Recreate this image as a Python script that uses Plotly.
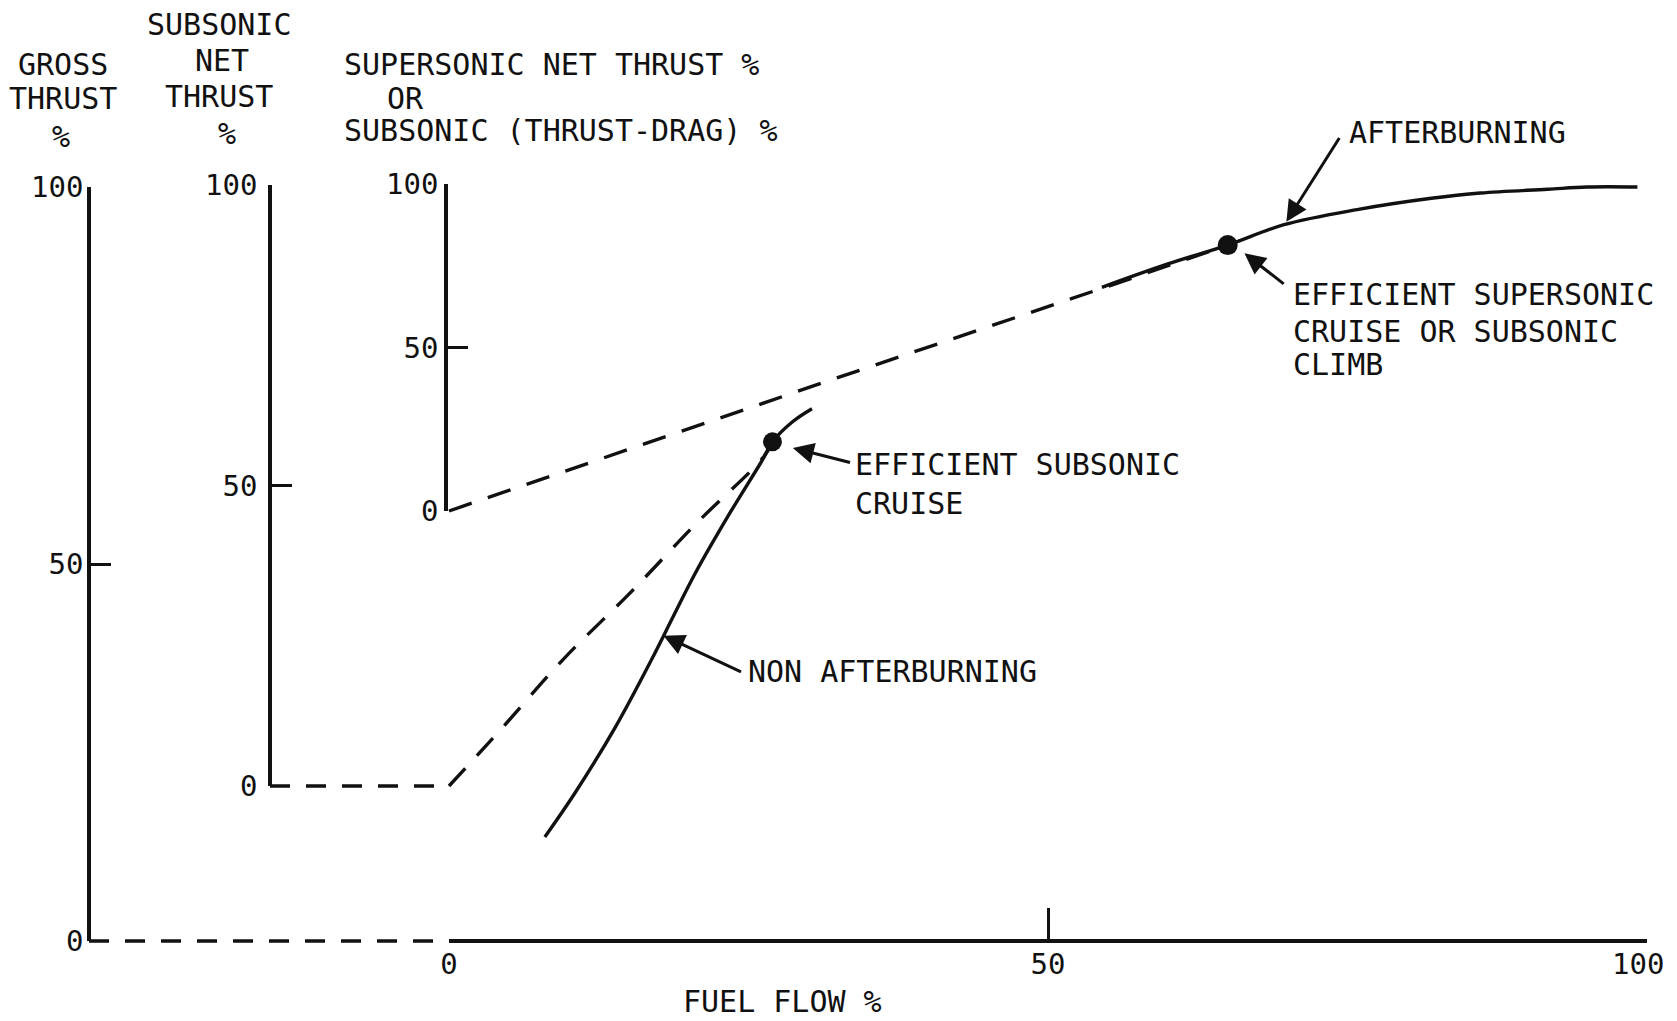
import plotly.graph_objects as go

W, H = 1677, 1021          # target picture
OFF = 8                    # page body margin
WF, HF = W - OFF, H - OFF  # figure size

# ---------------- data ----------------
FUEL_TICKS = [0, 50, 100]
FUEL_TICK_TEXT = ["0", "50", "100\u00a0"]
FUEL_MARK_TICKS = [50, 100]
THRUST_TICKS = [0, 50, 100]

# gross thrust, non afterburning
NONAB_FUEL = [8.0, 10.5, 13.9, 16.9, 18.8, 20.6, 23.5, 26.2, 27.0, 28.7, 30.3]
NONAB_GROSS = [13.8, 19.6, 28.4, 37.3, 43.3, 48.9, 56.9, 63.9, 66.2, 68.9, 70.6]

# gross thrust, afterburning
AB_FUEL = [54.5, 60.0, 65.0, 69.7, 75.8, 82.0, 86.1, 91.7, 95.0, 99.2]
AB_GROSS = [86.7, 89.8, 92.3, 95.0, 97.0, 98.5, 99.2, 99.7, 100.0, 100.0]

# subsonic net thrust
SUBNET_FUEL = [0, 4.5, 9.5, 15.1, 20.7, 26.2, 27.0]
SUBNET_THRUST = [0, 9.8, 21.0, 32.1, 43.8, 54.6, 57.2]

# supersonic net thrust or subsonic (thrust-drag)
SUPNET_FUEL = [0, 31.1, 55.8, 65.0]
SUPNET_THRUST = [0, 39.1, 69.7, 81.3]

# operating points
SUB_CRUISE_FUEL, SUB_CRUISE_GROSS = [27.0], [66.2]
SUP_CRUISE_FUEL, SUP_CRUISE_GROSS = [65.0], [92.3]

# ---------------- layout geometry (target pixels) ----------------
X0_PX, X100_PX, XAXIS_PY = 449, 1647, 941
GROSS_PX, GROSS_Y0, GROSS_Y100 = 89, 941, 187
SUB_PX, SUB_Y0, SUB_Y100 = 270, 786, 185
SUP_PX, SUP_Y0, SUP_Y100 = 446, 511, 184


def fx(px):
    return (px - OFF) / WF


def fy(py):
    return 1 - (py - OFF) / HF


k = 100.0 / (X100_PX - X0_PX)
FUEL_RANGE = [(OFF - X0_PX) * k, (OFF + WF - X0_PX) * k]


def fuel_at(px):
    return (px - X0_PX) * k


def thrust_range(y0, y100):
    u = 100.0 / (y0 - y100)
    return [-(OFF + HF - y0) * u, (y0 - OFF) * u]


GROSS_BASE_FUEL = [fuel_at(GROSS_PX), 0]
GROSS_BASE_VAL = [0, 0]
SUB_BASE_FUEL = [fuel_at(SUB_PX), 0]
SUB_BASE_VAL = [0, 0]

FONT = "DejaVu Sans Mono"
BLACK = "#111111"
TICK_SIZE = 29
TXT = 30
CLEAR = "rgba(0,0,0,0)"

fig = go.Figure()

dash_base = "20px,16px"
dash_curve = "24px,17px"


def line_trace(x, y, ya, dash=None, width=3.4, spline=False):
    ln = dict(color=BLACK, width=width)
    if dash:
        ln["dash"] = dash
    if spline:
        ln["shape"] = "spline"
        ln["smoothing"] = 1.0
    return go.Scatter(x=x, y=y, xaxis="x", yaxis=ya, mode="lines", line=ln,
                      showlegend=False, hoverinfo="skip")


fig.add_trace(line_trace(GROSS_BASE_FUEL, GROSS_BASE_VAL, "y", dash_base))
fig.add_trace(line_trace(SUB_BASE_FUEL, SUB_BASE_VAL, "y2", dash_base))
fig.add_trace(line_trace(SUBNET_FUEL, SUBNET_THRUST, "y2", dash_curve, spline=True))
fig.add_trace(line_trace(SUPNET_FUEL, SUPNET_THRUST, "y3", dash_curve))
fig.add_trace(line_trace(NONAB_FUEL, NONAB_GROSS, "y", spline=True))
fig.add_trace(line_trace(AB_FUEL, AB_GROSS, "y", spline=True))

fig.add_trace(go.Scatter(x=SUB_CRUISE_FUEL, y=SUB_CRUISE_GROSS, xaxis="x", yaxis="y",
                         mode="markers", marker=dict(color=BLACK, size=19),
                         showlegend=False, hoverinfo="skip"))
fig.add_trace(go.Scatter(x=SUP_CRUISE_FUEL, y=SUP_CRUISE_GROSS, xaxis="x", yaxis="y",
                         mode="markers", marker=dict(color=BLACK, size=20),
                         showlegend=False, hoverinfo="skip"))

for xa, ya in [("x2", "y"), ("x", "y4"), ("x", "y5"), ("x", "y6")]:
    fig.add_trace(go.Scatter(x=[None], y=[None], xaxis=xa, yaxis=ya,
                             mode="lines", showlegend=False, hoverinfo="skip"))

tickfont = dict(family=FONT, size=TICK_SIZE, color=BLACK)
hidden = dict(visible=False, showgrid=False, zeroline=False)

layout = dict(
    width=WF, height=HF,
    margin=dict(l=0, r=0, t=0, b=0, pad=0, autoexpand=False),
    paper_bgcolor="white", plot_bgcolor=CLEAR,
    showlegend=False,
    xaxis=dict(domain=[0, 1], range=FUEL_RANGE, anchor="free", position=fy(XAXIS_PY),
               showline=False, showgrid=False, zeroline=False, ticks="",
               tickmode="array", tickvals=FUEL_TICKS, ticktext=FUEL_TICK_TEXT,
               tickfont=tickfont, ticklabelstandoff=3, ticklabeloverflow="allow",
               automargin=False),
    xaxis2=dict(domain=[fx(X0_PX), fx(X100_PX)], range=[0, 100], anchor="free",
                position=fy(XAXIS_PY), showline=True, linecolor=BLACK, linewidth=3.5,
                showgrid=False, zeroline=False, ticks="inside", ticklen=31, tickwidth=3,
                tickcolor=BLACK, tickmode="array", tickvals=FUEL_MARK_TICKS,
                showticklabels=False, automargin=False),
    yaxis=dict(domain=[0, 1], range=thrust_range(GROSS_Y0, GROSS_Y100), **hidden),
    yaxis2=dict(overlaying="y", range=thrust_range(SUB_Y0, SUB_Y100), **hidden),
    yaxis3=dict(overlaying="y", range=thrust_range(SUP_Y0, SUP_Y100), **hidden),
)

for name, px, y0, y100, stand in [("yaxis4", GROSS_PX, GROSS_Y0, GROSS_Y100, -2),
                                  ("yaxis5", SUB_PX, SUB_Y0, SUB_Y100, 5),
                                  ("yaxis6", SUP_PX, SUP_Y0, SUP_Y100, 0)]:
    layout[name] = dict(domain=[fy(y0), fy(y100)], range=[0, 100], anchor="free",
                        position=fx(px), side="left", showline=True, linecolor=BLACK,
                        linewidth=3.5, showgrid=False, zeroline=False, ticks="inside",
                        ticklen=20, tickwidth=3, tickcolor=BLACK, tickmode="array",
                        tickvals=THRUST_TICKS, ticktext=[str(v) for v in THRUST_TICKS],
                        tickfont=tickfont, ticklabelstandoff=stand, automargin=False)

fig.update_layout(**layout)

TEXTS = [
    ("GROSS", 63, 64, "center"),
    ("THRUST", 63, 99, "center"),
    ("%", 61, 136, "center"),
    ("SUBSONIC", 219, 24, "center"),
    ("NET", 222, 61, "center"),
    ("THRUST", 219, 96, "center"),
    ("%", 227, 134, "center"),
    ("SUPERSONIC NET THRUST %", 343, 64, "left"),
    ("OR", 386, 98, "left"),
    ("SUBSONIC (THRUST-DRAG) %", 343, 130, "left"),
    ("AFTERBURNING", 1348, 133, "left"),
    ("EFFICIENT SUPERSONIC", 1292, 294, "left"),
    ("CRUISE OR SUBSONIC", 1292, 331, "left"),
    ("CLIMB", 1292, 364, "left"),
    ("EFFICIENT SUBSONIC", 854, 465, "left"),
    ("CRUISE", 854, 503, "left"),
    ("NON AFTERBURNING", 747, 671, "left"),
    ("FUEL FLOW %", 682, 1001, "left"),
]
for t, px, py, xa in TEXTS:
    fig.add_annotation(text=t, xref="paper", yref="paper", x=fx(px), y=fy(py),
                       xanchor=xa, yanchor="middle", showarrow=False, borderpad=0,
                       font=dict(family=FONT, size=TXT, color=BLACK))

# arrows: head fuel, head gross, tail fuel, tail gross
ARROWS = [
    (28.7, 65.4, 33.6, 63.4),
    (17.9, 40.5, 24.5, 35.6),
    (69.9, 95.4, 74.4, 106.7),
    (66.4, 91.2, 69.8, 87.0),
]
for hx, hy, tx, ty in ARROWS:
    fig.add_annotation(x=hx, y=hy, ax=tx, ay=ty, xref="x", yref="y", axref="x", ayref="y",
                       text="", showarrow=True, arrowhead=2, arrowsize=1.4,
                       arrowwidth=3, arrowcolor=BLACK, standoff=0, startstandoff=0)

fig.write_html("out.html")
